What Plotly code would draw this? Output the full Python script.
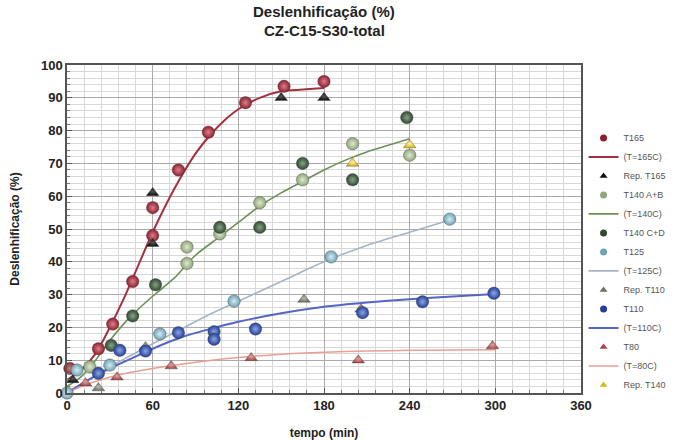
import plotly.graph_objects as go

# ---- data ----
t165_t = [2, 22, 32, 46, 60, 60, 78, 99, 125, 152, 180]
t165_v = [7.5, 13.5, 21, 34, 48, 56.5, 68, 79.5, 88.5, 93.5, 95]
rep165_t = [4, 60, 60, 150, 180]
rep165_v = [4, 45.5, 61, 90, 90]
c165_t = [0, 10, 20, 30, 40, 50, 60, 70, 80, 90, 100, 110, 120, 135, 150, 165, 180]
c165_v = [4, 7, 12, 20, 29, 39, 49, 58, 66, 73, 78.5, 83, 86.5, 90, 92, 92.5, 93]

t140ab_t = [16, 84, 84, 107, 135, 165, 200, 240]
t140ab_v = [8, 39.5, 44.5, 48.5, 58, 65, 76, 72.5]
t140cd_t = [31, 46, 62, 107, 135, 165, 200, 238]
t140cd_v = [14.5, 23.5, 33, 50.5, 50.5, 70, 65, 84]
c140_t = [0, 10, 20, 30, 45, 60, 75, 90, 105, 120, 135, 150, 165, 180, 195, 210, 225, 240]
c140_v = [2, 5, 10, 16, 23.5, 29.5, 35, 42, 47, 52, 57, 61, 64.5, 68, 71, 73.5, 75.5, 77.5]
rep140_t = [200, 240]
rep140_v = [70, 75.6]

t125_t = [0, 7, 30, 65, 117, 185, 268]
t125_v = [0, 7, 8.5, 18, 28, 41.5, 53]
c125_t = [0, 15, 30, 45, 60, 80, 100, 120, 150, 180, 210, 240, 270]
c125_v = [0, 4, 8, 11.5, 15, 19.5, 24, 28, 34, 40, 45, 49, 53]

rep110_t = [22, 55, 166, 206]
rep110_v = [1.5, 14, 28.5, 25.5]
t110_t = [22, 37, 55, 78, 103, 103, 132, 207, 249, 299]
t110_v = [6, 13, 12.8, 18.4, 18.7, 16.4, 19.5, 24.5, 27.8, 30.4]
c110_t = [0, 15, 30, 45, 60, 80, 100, 120, 150, 180, 210, 240, 270, 300]
c110_v = [0, 4, 7.5, 10.5, 13.5, 17, 19.5, 21.7, 24.3, 26.3, 27.6, 28.6, 29.4, 30.2]

t80_t = [13, 35, 73, 129, 204, 298]
t80_v = [3, 4.8, 8.2, 10.7, 10, 14.3]
c80_t = [0, 15, 30, 45, 60, 80, 100, 120, 150, 180, 210, 240, 270, 300]
c80_v = [0, 2.8, 4.8, 6.3, 7.5, 8.8, 9.9, 10.8, 11.8, 12.4, 12.8, 13, 13.1, 13.2]

x_ticks = [0, 60, 120, 180, 240, 300, 360]
y_ticks = [0, 10, 20, 30, 40, 50, 60, 70, 80, 90, 100]

FONT = "Arial, Liberation Sans, sans-serif"

fig = go.Figure()

def line(name, x, y, color, width):
    fig.add_trace(go.Scatter(x=x, y=y, mode="lines", name=name, showlegend=False,
                             line=dict(color=color, width=width, shape="spline", smoothing=0.8),
                             cliponaxis=False))

def pts(name, x, y, color, center, symbol, size):
    fig.add_trace(go.Scatter(x=x, y=y, mode="markers", name=name, showlegend=False,
                             marker=dict(color=color, symbol=symbol, size=size,
                                         gradient=dict(type="radial", color=center),
                                         line=dict(width=0.6, color="rgba(60,60,60,0.6)")),
                             cliponaxis=False))

def leg_line(name, color, width):
    fig.add_trace(go.Scatter(x=[None], y=[None], mode="lines", name=name,
                             line=dict(color=color, width=width)))

def leg_pts(name, color, symbol):
    fig.add_trace(go.Scatter(x=[None], y=[None], mode="markers", name=name,
                             marker=dict(color=color, symbol=symbol, size=7)))

line("(T=165C)", c165_t, c165_v, "#a3303f", 2)
line("(T=140C)", c140_t, c140_v, "#6f8f55", 1.6)
line("(T=125C)", c125_t, c125_v, "#a7b4c2", 1.6)
line("(T=110C)", c110_t, c110_v, "#5565c5", 2)
line("(T=80C)", c80_t, c80_v, "#e8a090", 1.5)

pts("T165", t165_t, t165_v, "#8e1f2e", "#d9808a", "circle", 12.5)
pts("Rep. T165", rep165_t, rep165_v, "#111111", "#555555", "triangle-up", 11)
pts("T140 A+B", t140ab_t, t140ab_v, "#8fa67a", "#dfe8cf", "circle", 12.5)
pts("T140 C+D", t140cd_t, t140cd_v, "#2f4a30", "#8aa08a", "circle", 12.5)
pts("T125", t125_t, t125_v, "#6fa3b3", "#d5ecf2", "circle", 12.5)
pts("Rep. T110", rep110_t, rep110_v, "#6e7262", "#b8bca8", "triangle-up", 11)
pts("T110", t110_t, t110_v, "#22409a", "#8fa4e0", "circle", 12.5)
pts("T80", t80_t, t80_v, "#a84848", "#e2a0a0", "triangle-up", 11)
pts("Rep. T140", rep140_t, rep140_v, "#d8b818", "#fff0a0", "triangle-up", 11)

# legend entries (in reference order)
leg_pts("T165", "#8e1f2e", "circle")
leg_line("(T=165C)", "#a3303f", 2)
leg_pts("Rep. T165", "#111111", "triangle-up")
leg_pts("T140 A+B", "#8fa67a", "circle")
leg_line("(T=140C)", "#6f8f55", 1.6)
leg_pts("T140 C+D", "#2f4a30", "circle")
leg_pts("T125", "#6fa3b3", "circle")
leg_line("(T=125C)", "#a7b4c2", 1.6)
leg_pts("Rep. T110", "#6e7262", "triangle-up")
leg_pts("T110", "#22409a", "circle")
leg_line("(T=110C)", "#5565c5", 2)
leg_pts("T80", "#a84848", "triangle-up")
leg_line("(T=80C)", "#e8a090", 1.5)
leg_pts("Rep. T140", "#d8b818", "triangle-up")

fig.update_layout(
    width=683, height=440,
    margin=dict(l=67, r=97, t=65, b=47),
    paper_bgcolor="white", plot_bgcolor="white",
    font=dict(family=FONT, color="#222"),
    legend=dict(x=1.005, y=0.822, xanchor="left", yanchor="top",
                font=dict(size=9, family=FONT, color="#555"),
                bgcolor="rgba(0,0,0,0)", itemwidth=30, tracegroupgap=0),
    showlegend=True,
    annotations=[
        dict(text="<b>Deslenhificação (%)</b>", xref="paper", yref="paper",
             x=0.5, y=1.0, yshift=54, xanchor="center", yanchor="middle",
             showarrow=False, font=dict(size=15, family=FONT, color="#222")),
        dict(text="<b>CZ-C15-S30-total</b>", xref="paper", yref="paper",
             x=0.5, y=1.0, yshift=35, xanchor="center", yanchor="middle",
             showarrow=False, font=dict(size=15, family=FONT, color="#222")),
    ],
)

fig.update_xaxes(range=[0, 360], tickvals=x_ticks, ticktext=[f"<b>{v}</b>" for v in x_ticks],
                 automargin=False,
                 showline=True, linecolor="#555", linewidth=1.5, mirror=True,
                 ticks="inside", ticklen=5, tickcolor="#555",
                 showgrid=True, gridcolor="#aaaaaa", gridwidth=1, zeroline=False,
                 minor=dict(dtick=12, showgrid=True, gridcolor="#d8d8d8", ticks="inside",
                            ticklen=3, tickcolor="#777"),
                 tickfont=dict(size=13, family=FONT, color="#222"),
                 title=dict(text="<b>tempo (min)</b>", font=dict(size=12, family=FONT, color="#222"),
                            standoff=16))
fig.update_yaxes(range=[0, 100], tickvals=y_ticks, ticktext=[f"<b>{v}</b>" for v in y_ticks],
                 automargin=False,
                 showline=True, linecolor="#555", linewidth=1.5, mirror=True,
                 ticks="inside", ticklen=5, tickcolor="#555",
                 showgrid=True, gridcolor="#aaaaaa", gridwidth=1, zeroline=False,
                 minor=dict(dtick=2, showgrid=True, gridcolor="#d8d8d8", ticks="inside",
                            ticklen=3, tickcolor="#777"),
                 tickfont=dict(size=13, family=FONT, color="#222"),
                 title=dict(text="<b>Deslenhificação (%)</b>", font=dict(size=12, family=FONT, color="#222"),
                            standoff=19))

fig.write_html("out.html")
